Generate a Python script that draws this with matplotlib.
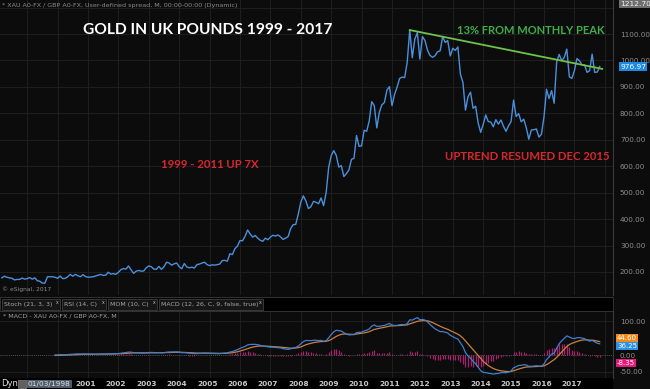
import numpy as np
import pandas as pd
import matplotlib
matplotlib.use("Agg")
import matplotlib.pyplot as plt
from matplotlib.patches import Rectangle

# ---------------- data ----------------
start_month = "1998-03-01"
p1998 = [178, 184, 180, 178, 176, 170, 172, 172, 177, 173]
p1999 = [175, 179, 173, 178, 167, 165, 158, 158, 182, 182, 182, 180]
p2000 = [176, 185, 175, 176, 182, 191, 184, 191, 186, 182, 190, 183]
p2001 = [180, 181, 182, 185, 188, 191, 187, 188, 199, 192, 194, 191]
p2002 = [199, 209, 213, 211, 223, 208, 195, 203, 206, 203, 204, 216]
p2003 = [223, 220, 211, 210, 221, 210, 220, 237, 234, 226, 231, 234]
p2004 = [220, 212, 232, 219, 216, 218, 215, 228, 230, 234, 237, 228]
p2005 = [224, 227, 226, 228, 230, 243, 244, 241, 269, 266, 288, 298]
p2006 = [319, 318, 335, 359, 344, 332, 338, 328, 320, 316, 328, 322]
p2007 = [332, 339, 336, 340, 333, 323, 328, 334, 364, 379, 380, 419]
p2008 = [464, 488, 469, 440, 447, 467, 464, 458, 480, 451, 500, 595]
p2009 = [640, 659, 641, 597, 602, 561, 572, 586, 626, 630, 716, 675]
p2010 = [677, 736, 732, 771, 844, 829, 745, 804, 832, 841, 888, 901]
p2011 = [829, 871, 899, 932, 937, 935, 993, 1115, 1010, 1080, 1105, 1005]
p2012 = [1090, 1076, 1039, 1019, 1012, 1018, 1033, 1036, 1090, 1068, 1075, 1017]
p2013 = [1046, 1038, 1051, 948, 917, 812, 863, 880, 819, 827, 764, 728]
p2014 = [758, 794, 769, 767, 749, 776, 759, 775, 751, 732, 753, 769]
p2015 = [850, 788, 799, 768, 778, 746, 702, 737, 738, 741, 710, 721]
p2016 = [787, 891, 856, 886, 838, 994, 1023, 999, 1012, 1043, 938, 932]
p2017 = [961, 1007, 999, 983, 983, 955, 961, 1024, 955, 956, 977]

prices = np.array(p1998 + p1999 + p2000 + p2001 + p2002 + p2003 + p2004 + p2005 +
                  p2006 + p2007 + p2008 + p2009 + p2010 + p2011 + p2012 + p2013 +
                  p2014 + p2015 + p2016 + p2017, dtype=float)

year_labels = list(range(2001, 2018))
price_ticks = [200, 300, 400, 500, 600, 700, 800, 900, 1000, 1100]
macd_ticks = [100, 0, -50]
trend_dates = ["2011-08-01", "2017-12-01"]
trend_values = [1115, 968]
last_price_text = "976.97"
top_price_text = "1212.70"
macd_box_texts = ["44.60", "36.25", "-8.35"]

dates = pd.date_range(start_month, periods=len(prices), freq="MS")
def dec_year(d):
    d = pd.DatetimeIndex(d)
    return d.year + (d.month - 1) / 12.0
t = dec_year(dates)
trend_t = dec_year(pd.to_datetime(trend_dates))

s = pd.Series(prices)
macd = s.ewm(span=12, adjust=False).mean() - s.ewm(span=26, adjust=False).mean()
signal = macd.ewm(span=9, adjust=False).mean()
hist = macd - signal
warm = 21

# ---------------- layout ----------------
W, H = 650, 389
BG = "#0c0c0c"
GRID = "#222222"
fig = plt.figure(figsize=(W / 100, H / 100), dpi=100, facecolor=BG)

def fx(px):
    return px / W
def fy(py):
    return 1 - py / H

x_right = 613
ppy = 30.4
x0 = 2011 - 392 / ppy
x1 = 2011 + (x_right - 392) / ppy

# main axes
main_top, main_bot = 0, 295
ax = fig.add_axes([0, fy(main_bot), fx(x_right), (main_bot - main_top) / H], facecolor=BG)
k = (272 - 34) / 900.0
ax.set_ylim(1100 - (main_bot - 34) / k, 1100 + (34 - main_top) / k)
ax.set_xlim(x0, x1)
for y in price_ticks + [1200]:
    ax.axhline(y, color=GRID, lw=0.6, zorder=0)
for yr in range(1999, 2019):
    ax.axvline(yr, color=GRID, lw=0.6, zorder=0)
ax.plot(t, prices, color="#4a90dc", lw=1.0, zorder=3)
ax.plot(trend_t, trend_values, color="#6cc24a", lw=1.3, zorder=4)

ax.yaxis.tick_right()
ax.set_yticks(price_ticks)
ax.set_yticklabels([f"{v:.2f}" for v in price_ticks])
ax.tick_params(axis="y", length=0, pad=5, labelsize=5.2, labelcolor="#8e8e8e")
ax.set_xticks([])
for sp in ["top", "left", "bottom"]:
    ax.spines[sp].set_visible(False)
ax.spines["right"].set_color("#3a3a3a")
ax.spines["right"].set_linewidth(0.8)

ax.text(1.012, 1212.7, top_price_text, transform=ax.get_yaxis_transform(), fontsize=5.3,
        color="#f0f0f0", va="center", ha="left",
        bbox=dict(boxstyle="square,pad=0.15", fc="#6e6e6e", ec="none"), zorder=6, clip_on=False)
ax.text(1.012, prices[-1], last_price_text, transform=ax.get_yaxis_transform(), fontsize=5.3,
        color="#ffffff", va="center", ha="left",
        bbox=dict(boxstyle="square,pad=0.15", fc="#1e88e5", ec="none"), zorder=6, clip_on=False)

# annotations
fig.text(fx(2), fy(5), "* XAU A0-FX / GBP A0-FX, User-defined spread, M, 00:00-00:00 (Dynamic)",
         fontsize=4.6, color="#8c8c8c", va="center", ha="left")
fig.text(fx(208), fy(30), "GOLD IN UK POUNDS 1999 - 2017", fontsize=11.2, fontweight="bold",
         family="Lato", color="#ffffff", va="center", ha="center")
fig.text(fx(531), fy(31), "13% FROM MONTHLY PEAK", fontsize=8.0, fontweight="bold",
         family="Lato", color="#3fae49", va="center", ha="center")
fig.text(fx(210), fy(165), "1999 - 2011 UP 7X", fontsize=8.2, fontweight="bold",
         family="Lato", color="#d9272e", va="center", ha="center")
fig.text(fx(527), fy(157), "UPTREND RESUMED DEC 2015", fontsize=8.2, fontweight="bold",
         family="Lato", color="#d9272e", va="center", ha="center")
fig.text(fx(2), fy(289), "\u00a9 eSignal, 2017", fontsize=4.3, color="#8c8c8c", va="center", ha="left")

# tab bar
fig.patches.append(Rectangle((0, fy(311)), fx(x_right), (311 - 297) / H, transform=fig.transFigure,
                             fc="#000000", ec="#3a3a3a", lw=0.6))
tabs = [("Stoch (21, 3, 3)", 2, 60), ("RSI (14, C)", 62, 106), ("MOM (10, C)", 108, 157),
        ("MACD (12, 26, C, 9, false, true)", 159, 263)]
for label, a, b in tabs:
    fig.patches.append(Rectangle((fx(a), fy(310)), fx(b - a), 11 / H, transform=fig.transFigure,
                                 fc="#161616", ec="#4a4a4a", lw=0.5))
    fig.text(fx(a + 2), fy(304.5), label, fontsize=4.5, color="#a8a8a8", va="center", ha="left")
    fig.text(fx(b - 3), fy(302), "x", fontsize=3.3, color="#c0c0c0", va="center", ha="center")

# MACD axes
m_top, m_bot = 311, 378
ax2 = fig.add_axes([0, fy(m_bot), fx(x_right), (m_bot - m_top) / H], facecolor=BG)
k2 = (372 - 321) / 150.0
ax2.set_ylim(-50 - (m_bot - 372) / k2, 100 + (321 - m_top) / k2)
ax2.set_xlim(x0, x1)
for yr in range(1999, 2019):
    ax2.axvline(yr, color=GRID, lw=0.6, zorder=0)
ax2.axhline(100, color=GRID, lw=0.6, zorder=0)
ax2.axhline(-50, color=GRID, lw=0.6, zorder=0)
ax2.axhline(0, color="#707070", lw=0.6, ls=(0, (1, 1.5)), zorder=1)
tw = t[warm:]
ax2.vlines(tw, 0, hist.values[warm:], color="#a8226a", lw=0.9, zorder=2)
ax2.plot(tw, signal.values[warm:], color="#c9803f", lw=0.9, zorder=3)
ax2.plot(tw, macd.values[warm:], color="#3f7fd0", lw=0.9, zorder=4)
ax2.yaxis.tick_right()
ax2.set_yticks(macd_ticks)
ax2.set_yticklabels([f"{v:.2f}" for v in macd_ticks])
ax2.tick_params(axis="y", length=0, pad=5, labelsize=5.2, labelcolor="#8e8e8e")
ax2.set_xticks([])
for sp in ["top", "left", "bottom"]:
    ax2.spines[sp].set_visible(False)
ax2.spines["right"].set_color("#3a3a3a")
ax2.spines["right"].set_linewidth(0.8)
fig.text(fx(3), fy(316), "* MACD - XAU A0-FX / GBP A0-FX, M", fontsize=4.6, color="#a0a0a0",
         va="center", ha="left")

# value boxes on MACD scale (stacked so they do not cover each other)
box_px = [338, 346, 363]
box_cols = ["#f08a1c", "#2f8fe0", "#e8197a"]
for txt, py, col in zip(macd_box_texts, box_px, box_cols):
    fig.text(fx(x_right + 4), fy(py), txt, fontsize=5.0, color="#ffffff", va="center", ha="left",
             bbox=dict(boxstyle="square,pad=0.12", fc=col, ec="none"), zorder=7)

# date axis
ax3 = fig.add_axes([0, 0, fx(x_right), (H - m_bot) / H], facecolor="#000000")
ax3.set_xlim(x0, x1)
ax3.set_ylim(0, 1)
ax3.set_xticks([])
ax3.set_yticks([])
for sp in ax3.spines.values():
    sp.set_visible(False)
for yr in year_labels:
    ax3.text(yr - 0.08, 0.45, str(yr), fontsize=5.3, fontweight="bold", color="#c8c8c8",
             ha="center", va="center")
fig.text(fx(1), fy(384), "Dyn", fontsize=6, color="#e0e0e0", va="center", ha="left")
fig.patches.append(Rectangle((fx(18), fy(388)), fx(8), 8 / H, transform=fig.transFigure,
                             fc="#606060", ec="#9a9a9a", lw=0.4))
fig.text(fx(28), fy(384), "01/03/1998", fontsize=5.3, color="#e0e0e0", va="center", ha="left",
         bbox=dict(boxstyle="square,pad=0.2", fc="#4e5d6c", ec="none"))

fig.savefig("out.png", dpi=100, facecolor=BG)
